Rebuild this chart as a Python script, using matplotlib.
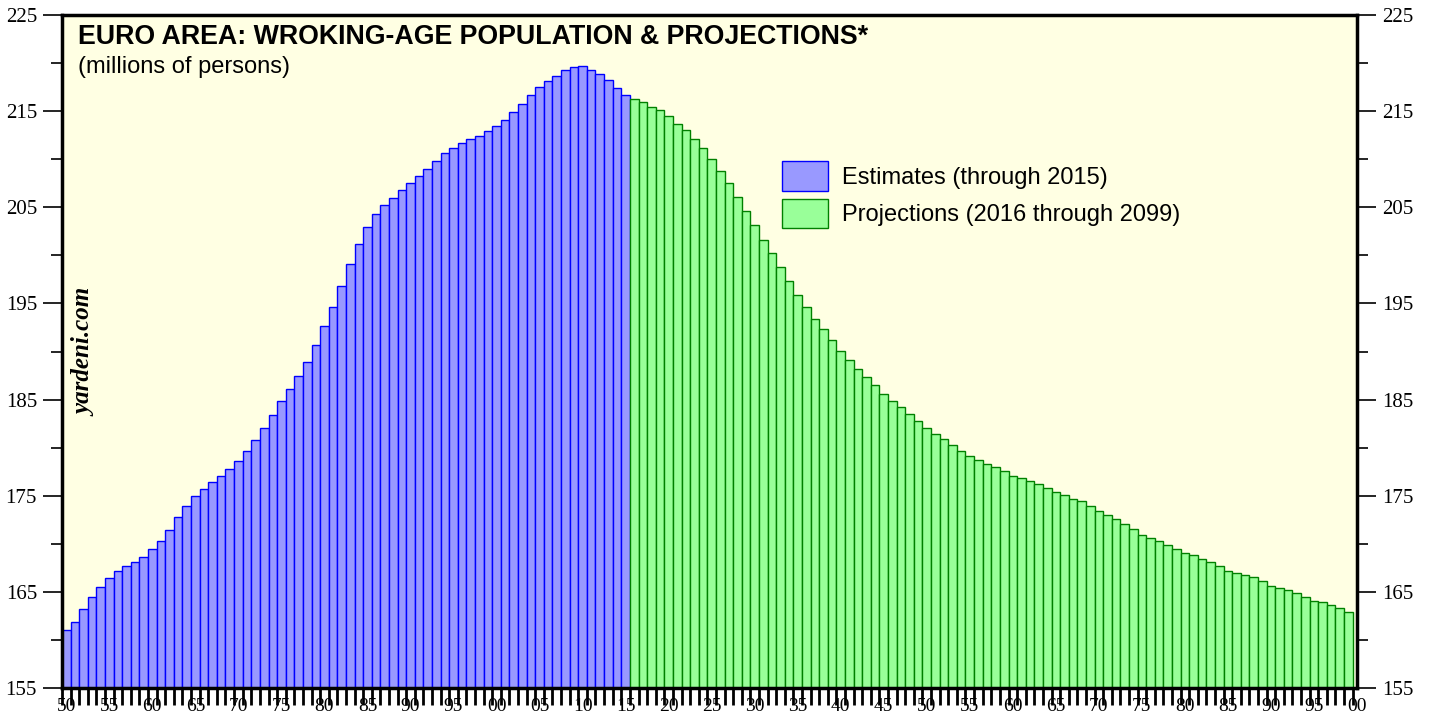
import matplotlib
matplotlib.use("Agg")
import matplotlib.pyplot as plt
import numpy as np

# --- data (millions of persons) ---
est_start = 1950
estimates = [
    161.0, 161.9, 163.2, 164.5, 165.55, 166.4, 167.2, 167.7, 168.1, 168.6,
    169.5, 170.3, 171.4, 172.8, 173.95, 175.0, 175.7, 176.4, 177.05, 177.8,
    178.6, 179.6, 180.8, 182.0, 183.4, 184.8, 186.1, 187.45, 188.9, 190.65,
    192.65, 194.6, 196.8, 199.1, 201.2, 203.0, 204.25, 205.2, 205.96, 206.8,
    207.5, 208.3, 209.0, 209.8, 210.6, 211.2, 211.7, 212.1, 212.45, 212.9,
    213.45, 214.1, 214.9, 215.7, 216.65, 217.5, 218.1, 218.7, 219.3, 219.6,
    219.65, 219.3, 218.85, 218.2, 217.4, 216.7,
]
proj_start = 2016
projections = [
    216.3, 215.9, 215.4, 215.1, 214.5, 213.7, 213.0, 212.1, 211.2, 210.0,
    208.8, 207.5, 206.1, 204.6, 203.2, 201.6, 200.2, 198.75, 197.3, 195.9,
    194.6, 193.4, 192.3, 191.2, 190.05, 189.1, 188.2, 187.3, 186.5, 185.6,
    184.9, 184.2, 183.5, 182.8, 182.0, 181.4, 180.9, 180.3, 179.7, 179.1,
    178.7, 178.3, 178.0, 177.6, 177.1, 176.8, 176.5, 176.2, 175.8, 175.4,
    175.1, 174.7, 174.4, 173.9, 173.4, 173.0, 172.6, 172.1, 171.5, 170.9,
    170.6, 170.3, 169.9, 169.5, 169.0, 168.8, 168.45, 168.1, 167.7, 167.2,
    167.0, 166.8, 166.5, 166.1, 165.6, 165.4, 165.15, 164.9, 164.5, 164.05,
    163.9, 163.6, 163.3, 162.95,
]
label_years = list(range(1950, 2101, 5))
y_ticks = list(range(155, 226, 10))

title = "EURO AREA: WROKING-AGE POPULATION & PROJECTIONS*"
subtitle = "(millions of persons)"
est_label = "Estimates (through 2015)"
proj_label = "Projections (2016 through 2099)"

# --- style ---
sans = ["Liberation Sans", "DejaVu Sans"]
serif = ["Liberation Serif", "DejaVu Serif"]
bg = "#ffffe3"

fig = plt.figure(figsize=(14.29, 7.19), dpi=100)
ax = fig.add_axes([62 / 1429, 1 - 688 / 719, 1295 / 1429, 673 / 719])
ax.set_facecolor(bg)

est_years = np.arange(est_start, est_start + len(estimates))
proj_years = np.arange(proj_start, proj_start + len(projections))
ymin, ymax = 155, 225

b1 = ax.bar(est_years, np.array(estimates) - ymin, bottom=ymin, width=1.0,
            color="#9999ff", edgecolor="#0000ff", linewidth=1.0, label=est_label)
b2 = ax.bar(proj_years, np.array(projections) - ymin, bottom=ymin, width=1.0,
            color="#99ff99", edgecolor="#008000", linewidth=1.0, label=proj_label)

ax.set_xlim(1949.5, 2100.0)
ax.set_ylim(ymin, ymax)

# x axis: ticks at bar boundaries, labels centred under years
ax.set_xticks(label_years)
ax.set_xticklabels([f"{y % 100:02d}" for y in label_years], family=serif, fontsize=14)
ax.set_xticks(np.arange(1949.5, 2100, 1.0), minor=True)
ax.tick_params(axis="x", which="major", length=0, pad=7.5)
ax.tick_params(axis="x", which="minor", length=12, width=2, direction="out", color="black")

# y axis: both sides
ax.set_yticks(y_ticks)
ax.set_yticks(np.arange(160, 225, 10), minor=True)
ax.set_yticklabels([str(v) for v in y_ticks], family=serif, fontsize=15)
ax.tick_params(axis="y", which="major", length=14, width=1.2, direction="out",
               left=True, right=True, labelleft=True, labelright=True, pad=4,
               labelsize=15)
ax.tick_params(axis="y", which="minor", length=8, width=1.2, direction="out",
               left=True, right=True)
for lab in ax.get_yticklabels(which="both"):
    lab.set_family(serif)

for side in ["left", "right", "top", "bottom"]:
    ax.spines[side].set_linewidth(2.5)
    ax.spines[side].set_color("black")

# titles
fig.text(78 / 1429, 1 - 44 / 719, title, family=sans, fontsize=19.3, fontweight="bold",
         va="baseline", ha="left")
fig.text(78 / 1429, 1 - 73 / 719, subtitle, family=sans, fontsize=17,
         va="baseline", ha="left")

# watermark
fig.text(85 / 1429, 1 - 352 / 719, "yardeni.com", family=serif, fontsize=18,
         fontweight="bold", style="italic", rotation=90, ha="center", va="center")

# legend
leg = ax.legend(handles=[b1, b2], loc="upper left",
                bbox_to_anchor=((782 - 62) / 1295, (688 - 161) / 673),
                frameon=False, prop={"family": sans, "size": 17},
                handlelength=1.95, handleheight=1.55, handletextpad=0.6,
                labelspacing=0.35, borderpad=0, borderaxespad=0)

fig.savefig("out.png", dpi=100, facecolor="white")
